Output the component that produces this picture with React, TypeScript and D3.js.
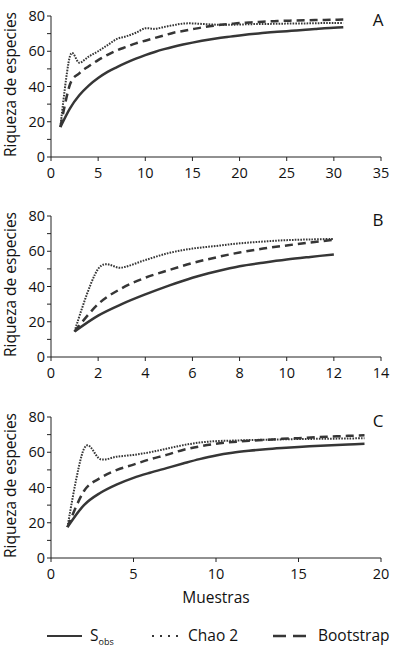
import * as d3 from 'd3';

// Muestras (x) for each panel
const samplesA = d3.range(1, 32);
const samplesB = d3.range(1, 13);
const samplesC = d3.range(1, 20);

// Panel A
const sobsA = [17, 27.5, 35, 40.5, 44.8, 48.3, 51, 53.5, 55.8, 57.8, 59.6, 61.2, 62.6, 63.8, 64.9, 65.9, 66.8, 67.6, 68.3, 69, 69.6, 70.1, 70.6, 71, 71.4, 71.8, 72.2, 72.6, 73, 73.3, 73.6];
const chaoA = [17, 57, 53.5, 57, 60, 63.5, 67, 68.5, 70.5, 73, 72.7, 73.8, 74.8, 75.7, 75.8, 75.5, 75.2, 75, 75, 75.2, 75.3, 75.5, 75.5, 75.6, 75.7, 75.8, 75.8, 75.9, 76, 76, 76];
const bootA = [17, 41, 47.5, 51.5, 55, 58, 60.5, 62.5, 64.5, 66, 67.5, 69, 70.5, 71.5, 72.5, 73.5, 74.3, 75, 75.5, 76, 76.3, 76.6, 76.9, 77.1, 77.3, 77.5, 77.6, 77.7, 77.8, 77.9, 78];

// Panel B
const sobsB = [14.5, 23.5, 30, 35.5, 40.5, 45, 48.5, 51.5, 53.5, 55.3, 56.8, 58.2];
const chaoB = [14.5, 50, 50.7, 55, 59, 61.5, 63, 64.5, 65.5, 66.3, 66.7, 67];
const bootB = [14.5, 30, 39, 45, 49.3, 53.3, 56.5, 59.3, 61.5, 63.3, 65, 66.5];

// Panel C
const sobsC = [17.5, 30, 37, 41.8, 45.5, 48.4, 51, 53.6, 56.1, 58.2, 59.7, 60.8, 61.7, 62.4, 63, 63.5, 64, 64.4, 64.8];
const chaoC = [17.5, 62, 56, 57.5, 58.5, 60, 62, 64, 65.5, 66.3, 66.6, 66.9, 67.1, 67.3, 67.5, 67.6, 67.7, 67.8, 68];
const bootC = [17.5, 38, 45.5, 50, 53, 56, 58.5, 61.3, 63.3, 64.8, 65.8, 66.5, 67, 67.6, 68, 68.5, 68.9, 69.3, 69.6];

const yTicks = [0, 20, 40, 60, 80];
const yMinor = [10, 30, 50, 70];
const xTicksA = [0, 5, 10, 15, 20, 25, 30, 35];
const xTicksB = [0, 2, 4, 6, 8, 10, 12, 14];
const xTicksC = [0, 5, 10, 15, 20];

const legendItems = ['Sobs', 'Chao 2', 'Bootstrap'];

const FONT = '"Open Sans", "DejaVu Sans", sans-serif';
const LINE = '#363636';
const AXIS = '#222';

const styles = {
  sobs: { width: 2.5, dash: null as string | null },
  chao: { width: 2, dash: '1.6 1.2' },
  boot: { width: 2.5, dash: '8 5' },
};

interface PanelProps {
  label: string;
  top: number;
  xMax: number;
  xTicks: number[];
  samples: number[];
  sobs: number[];
  chao: number[];
  boot: number[];
}

function Panel({ label, top, xMax, xTicks, samples, sobs, chao, boot }: PanelProps) {
  const left = 51;
  const right = 381;
  const h = 141;
  const x = d3.scaleLinear().domain([0, xMax]).range([left, right]);
  const y = d3.scaleLinear().domain([0, 80]).range([top + h, top]);

  const line = d3
    .line<number>()
    .x((_, i) => x(samples[i]))
    .y((d) => y(d))
    .curve(d3.curveCardinal.tension(0));

  const series = [
    { key: 'boot', data: boot, ...styles.boot },
    { key: 'chao', data: chao, ...styles.chao },
    { key: 'sobs', data: sobs, ...styles.sobs },
  ];

  return (
    <g>
      {/* axes */}
      <line x1={left} x2={left} y1={y(0)} y2={y(80)} stroke={AXIS} strokeWidth={1} />
      <line x1={left} x2={right} y1={y(0)} y2={y(0)} stroke={AXIS} strokeWidth={1} />
      {[...yTicks, ...yMinor].map((t) => (
        <line key={'yt' + t} x1={left - 4} x2={left} y1={y(t)} y2={y(t)} stroke={AXIS} strokeWidth={1} />
      ))}
      {yTicks.map((t) => (
        <text key={'yl' + t} x={left - 6} y={y(t)} dy="0.36em" textAnchor="end" fontSize={14.5} fill="#111">
          {t}
        </text>
      ))}
      {xTicks.map((t) => (
        <g key={'xt' + t}>
          <line x1={x(t)} x2={x(t)} y1={y(0)} y2={y(0) + 4} stroke={AXIS} strokeWidth={1} />
          <text x={x(t)} y={y(0) + 21} textAnchor="middle" fontSize={14.5} fill="#111">
            {t}
          </text>
        </g>
      ))}
      <text
        transform={`translate(16,${top + h / 2 - 2}) rotate(-90)`}
        textAnchor="middle"
        fontSize={15.5}
        fill="#111"
      >
        Riqueza de especies
      </text>
      <text x={378} y={top + 10} textAnchor="middle" fontSize={17} fill="#111">
        {label}
      </text>
      {series.map((s) => (
        <path
          key={s.key}
          d={line(s.data) ?? ''}
          fill="none"
          stroke={LINE}
          strokeWidth={s.width}
          strokeDasharray={s.dash ?? undefined}
        />
      ))}
    </g>
  );
}

export default function App() {
  const legendY = 636;
  return (
    <svg
      width={394}
      height={656}
      style={{ position: 'absolute', left: 0, top: 0, background: '#fff', fontFamily: FONT }}
    >
      <Panel label="A" top={16} xMax={35} xTicks={xTicksA} samples={samplesA} sobs={sobsA} chao={chaoA} boot={bootA} />
      <Panel label="B" top={216} xMax={14} xTicks={xTicksB} samples={samplesB} sobs={sobsB} chao={chaoB} boot={bootB} />
      <Panel label="C" top={417} xMax={20} xTicks={xTicksC} samples={samplesC} sobs={sobsC} chao={chaoC} boot={bootC} />

      <text x={216} y={603} textAnchor="middle" fontSize={15.5} fill="#111">
        Muestras
      </text>

      {/* legend */}
      <line x1={47} x2={82} y1={legendY} y2={legendY} stroke={LINE} strokeWidth={2} />
      <text x={90} y={legendY + 5} fontSize={15.5} fill="#111">
        {legendItems[0].charAt(0)}
        <tspan fontSize={9} dy={4}>
          {legendItems[0].slice(1)}
        </tspan>
      </text>
      <line x1={152} x2={182} y1={legendY} y2={legendY} stroke={LINE} strokeWidth={2} strokeDasharray="2 6" />
      <text x={188} y={legendY + 5} fontSize={15.5} fill="#111">
        {legendItems[1]}
      </text>
      <line x1={273} x2={306} y1={legendY} y2={legendY} stroke={LINE} strokeWidth={2.4} strokeDasharray="13 7" />
      <text x={318} y={legendY + 5} fontSize={15.5} fill="#111">
        {legendItems[2]}
      </text>
    </svg>
  );
}
